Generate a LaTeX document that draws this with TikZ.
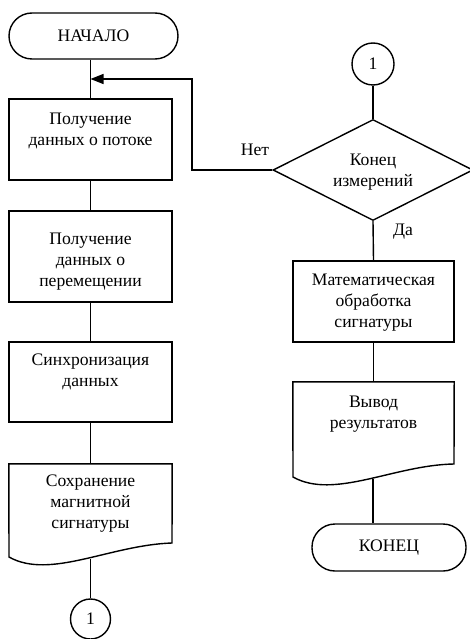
\documentclass[tikz,border=0pt]{standalone}
\usepackage{fontspec}
\setmainfont{Liberation Serif}
\usetikzlibrary{arrows.meta,shapes.geometric}
\begin{document}
\begin{tikzpicture}[x=1pt,y=-1pt,
  line/.style={line width=1.4pt},
  box/.style={draw,line width=1.4pt,minimum width=163pt,inner sep=0pt},
  term/.style={draw,line width=1.4pt,rounded corners=23pt,inner sep=0pt},
  txt/.style={align=center,font=\fontsize{17.6}{21}\selectfont,inner sep=0pt},
  conn/.style={draw,circle,line width=1.4pt,inner sep=0pt,font=\fontsize{17.6}{21}\selectfont},
  dec/.style={draw,diamond,aspect=2,line width=1.4pt,inner sep=0pt,minimum width=200pt,minimum height=101pt},
  ghost/.style={draw=none,minimum width=163pt,inner sep=0pt},
]
\useasboundingbox (0,0) rectangle (470,639);

% left column
\node[term,txt,minimum width=169pt,minimum height=46pt] (start) at (93.5,36) {НАЧАЛО};
\node[box,minimum height=81pt] (b1) at (90.5,139.5) {};
\node[txt] (t1) at (90.5,131) {Получение\\данных о потоке};
\node[box,minimum height=91pt] (b2) at (90.5,256.5) {};
\node[txt] (t2) at (90.5,262) {Получение\\данных о\\перемещении};
\node[box,minimum height=80pt] (b3) at (90.5,382) {};
\node[txt] (t3) at (90.5,372) {Синхронизация\\данных};
\node[ghost,minimum height=93pt] (d4) at (90.5,510.5) {};
\draw[line] (d4.north west) -- (d4.north east) -- (172,543)
  .. controls (110,545) and (50,580) .. (9,557) -- cycle;
\node[txt] (t4) at (90.5,504) {Сохранение\\магнитной\\сигнатуры};
\coordinate (d4b) at (90.5,558.5);
\node[conn,minimum size=40pt] (c2) at (90.5,619) {1};

% right column
\node[conn,minimum size=42pt] (c1) at (373,64) {1};
\node[dec] (dia) at (373,170) {};
\node[txt] (td) at (373,172) {Конец\\измерений};
\node[box,minimum width=161pt,minimum height=81pt] (b5) at (373.5,301.5) {};
\node[txt] (t5) at (373.5,303) {Математическая\\обработка\\сигнатуры};
\node[ghost,minimum width=161pt,minimum height=95pt] (d6) at (373.5,429.5) {};
\draw[line] (d6.north west) -- (d6.north east) -- (454,464)
  .. controls (394,465) and (334,500) .. (293,477) -- cycle;
\node[txt] (t6) at (373.5,414) {Вывод\\результатов};
\coordinate (d6b) at (373,478.5);
\node[term,txt,minimum width=154pt,minimum height=47pt] (end) at (389,547.5) {КОНЕЦ};

% labels
\node[txt] (no) at (255,150) {Нет};
\node[txt] (yes) at (403,232) {Да};

% connectors
\coordinate (m) at (90.5,79);
\coordinate (k) at (192,79);
\draw[line] (b1.north |- start.south) -- (b1.north);
\draw[line] (b1.south) -- (b2.north);
\draw[line] (b2.south) -- (b3.north);
\draw[line] (b3.south) -- (d4.north);
\draw[line] (d4b) -- (c2.north);
\draw[line] (c1.south) -- (dia.north);
\draw[line] (dia.south) -- (b5.north);
\draw[line] (b5.south) -- (d6.north);
\draw[line] (d6b) -- (d6b |- end.north);
\draw[line,-{Triangle[length=13pt,width=10pt]}] (dia.west) -| (k) -- (m);
\end{tikzpicture}
\end{document}
